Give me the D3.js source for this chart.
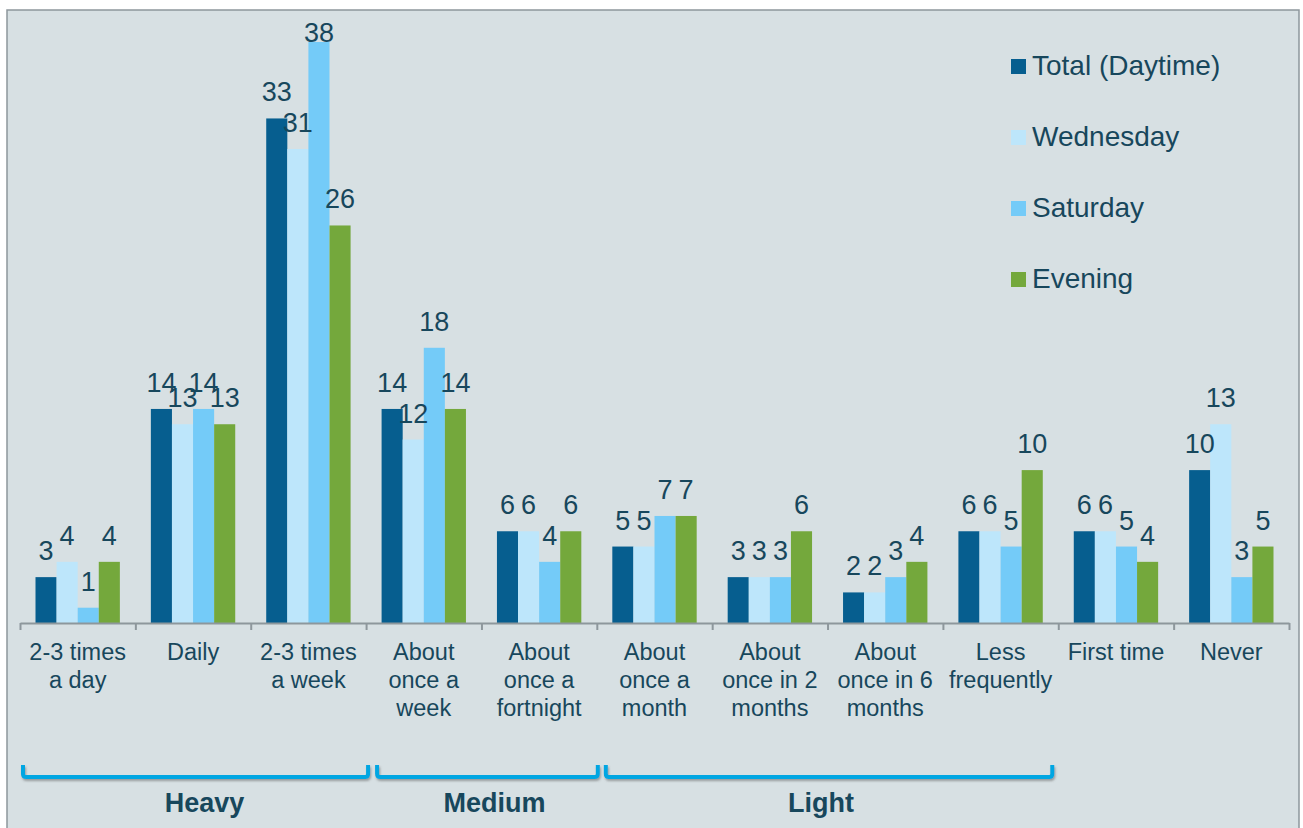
<!DOCTYPE html>
<html><head><meta charset="utf-8">
<script src="https://cdn.jsdelivr.net/npm/d3@7"></script>
<style>
html,body{margin:0;padding:0;background:#fff;}
text{font-family:"Liberation Sans",Arial,sans-serif;}
</style></head>
<body><svg id="c" width="1303" height="828"></svg>
<script>
const categories = [
  ["2-3 times","a day"],["Daily"],["2-3 times","a week"],["About","once a","week"],
  ["About","once a","fortnight"],["About","once a","month"],["About","once in 2","months"],
  ["About","once in 6","months"],["Less","frequently"],["First time"],["Never"]
];
const seriesNames = ["Total (Daytime)","Wednesday","Saturday","Evening"];
const totalDaytime = [3,14,33,14,6,5,3,2,6,6,10];
const wednesday    = [4,13,31,12,6,5,3,2,6,6,13];
const saturday     = [1,14,38,18,4,7,3,3,5,5,3];
const evening      = [4,13,26,14,6,7,6,4,10,4,5];
const groupNames = ["Heavy","Medium","Light"];
const groupFrom  = [0,3,5];
const groupTo    = [2,4,8];
const colors = ["#065e8f","#bde6fb","#74cbf8","#74a83c"];
const textColor = "#17475c";
const series = [totalDaytime, wednesday, saturday, evening];

const svg = d3.select("#c");
const defs = svg.append("defs");
const f = defs.append("filter").attr("id","sh").attr("x","-5%").attr("y","-50%").attr("width","110%").attr("height","250%");
f.append("feDropShadow").attr("dx",1).attr("dy",2).attr("stdDeviation",1.2).attr("flood-color","#555").attr("flood-opacity",0.5);

svg.append("rect").attr("x",7).attr("y",10).attr("width",1292).attr("height",830)
  .attr("fill","#d7e0e3").attr("stroke","#8d979c").attr("stroke-width",1.5);

const idx = categories.map((d,i)=>i);
const x = d3.scaleBand().domain(idx).range([20,1289]).padding(0);
const xs = d3.scaleBand().domain(d3.range(4)).range([15.5, x.bandwidth()-15.5]).padding(0);
const y = d3.scaleLinear().domain([0,38]).range([623,42]);

// bars
series.forEach((vals,s)=>{
  svg.append("g").selectAll("rect").data(vals).join("rect")
    .attr("x",(d,i)=>x(i)+xs(s)).attr("width",xs.bandwidth())
    .attr("y",d=>y(d)).attr("height",d=>y(0)-y(d)).attr("fill",colors[s]);
});
// labels
series.forEach((vals,s)=>{
  svg.append("g").selectAll("text").data(vals).join("text")
    .attr("x",(d,i)=>x(i)+xs(s)+xs.bandwidth()/2)
    .attr("y",d=>Math.max(y(d)-17, 42))
    .attr("text-anchor","middle").attr("font-size",27).attr("fill",textColor)
    .text(d=>d);
});

// axis
const xb = d3.scaleLinear().domain([0,categories.length]).range([20,1289]);
const ax = svg.append("g").attr("transform","translate(0,623)")
  .call(d3.axisBottom(xb).tickValues(d3.range(categories.length+1)).tickFormat("").tickSize(7).tickSizeOuter(0));
ax.selectAll("path,line").attr("stroke","#8d979c").attr("stroke-width",2);

// category labels
const cl = svg.append("g").selectAll("text").data(categories).join("text")
  .attr("x",(d,i)=>x(i)+x.bandwidth()/2).attr("y",660)
  .attr("text-anchor","middle").attr("font-size",23.5).attr("fill",textColor);
cl.each(function(d){
  const t=d3.select(this);
  d.forEach((line,k)=>t.append("tspan").attr("x",t.attr("x")).attr("dy",k===0?0:28).text(line));
});

// legend
const lg = svg.append("g").selectAll("g").data(seriesNames).join("g")
  .attr("transform",(d,i)=>`translate(1011,${75+i*71})`);
lg.append("rect").attr("x",0).attr("y",-16).attr("width",15).attr("height",15).attr("fill",(d,i)=>colors[i]);
lg.append("text").attr("x",21).attr("y",0).attr("font-size",28).attr("fill",textColor).text(d=>d);

// group brackets
const insetL = [3,11,9], insetR = [-2,-1,6], labelDx = [9,7,-8];
const bg = svg.append("g");
groupNames.forEach((name,gi)=>{
  const x0 = x(groupFrom[gi]) + insetL[gi], x1 = x(groupTo[gi]) + x.bandwidth() - insetR[gi];
  const top=765, bot=777, r=3;
  bg.append("path")
    .attr("d",`M${x0},${top} V${bot-r} Q${x0},${bot} ${x0+r},${bot} H${x1-r} Q${x1},${bot} ${x1},${bot-r} V${top}`)
    .attr("fill","none").attr("stroke","#00a6e2").attr("stroke-width",4).attr("filter","url(#sh)");
  bg.append("text").attr("x",(x0+x1)/2 + labelDx[gi]).attr("y",812)
    .attr("text-anchor","middle").attr("font-size",27).attr("font-weight","bold").attr("fill",textColor).text(name);
});
</script></body></html>
